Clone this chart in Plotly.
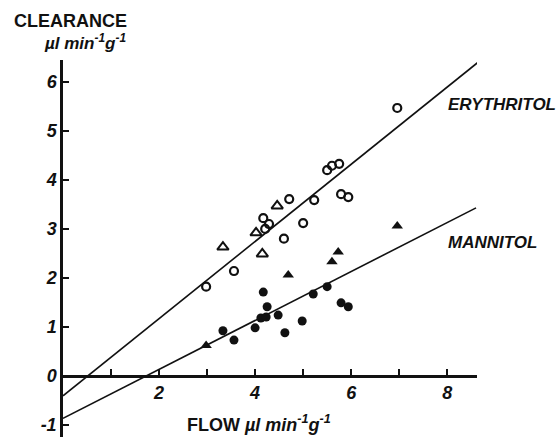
import plotly.graph_objects as go

# ---- data ----
ery_open_circle_x = [2.98, 3.56, 4.17, 4.21, 4.29, 4.60, 4.71, 5.00, 5.23, 5.50, 5.60, 5.75, 5.79, 5.94, 6.96]
ery_open_circle_y = [1.82, 2.14, 3.22, 3.00, 3.10, 2.80, 3.61, 3.12, 3.59, 4.20, 4.29, 4.33, 3.71, 3.65, 5.47]

ery_open_tri_x = [3.33, 4.02, 4.15, 4.46]
ery_open_tri_y = [2.63, 2.92, 2.49, 3.47]

man_filled_circle_x = [3.33, 3.56, 4.00, 4.12, 4.17, 4.23, 4.25, 4.48, 4.62, 4.98, 5.21, 5.50, 5.79, 5.94]
man_filled_circle_y = [0.92, 0.73, 0.98, 1.18, 1.71, 1.20, 1.41, 1.24, 0.88, 1.12, 1.67, 1.82, 1.49, 1.41]

man_filled_tri_x = [2.98, 4.69, 5.60, 5.73, 6.96]
man_filled_tri_y = [0.62, 2.06, 2.33, 2.53, 3.06]

ery_line_x = [0.0, 8.65]
ery_line_y = [-0.41, 6.41]
man_line_x = [0.0, 8.60]
man_line_y = [-0.87, 3.43]

x_tick_vals = [2, 4, 6, 8]
x_tick_text = ["2", "4", "6", "8"]
x_minor_tick_vals = [1, 3, 5, 7]
y_tick_vals = [-1, 0, 1, 2, 3, 4, 5, 6]
y_tick_text = ["-1", "0", "1", "2", "3", "4", "5", "6"]

x_range = [0, 8.62]
y_range = [-1.25, 6.45]

# ---- layout geometry ----
W, H = 560, 437
ML, MR, MT, MB = 63, 83, 60, 0
PW, PH = W - ML - MR, H - MT - MB

def px(xp):
    return (xp - ML) / PW

def py(yp):
    return (H - MB - yp) / PH

FONT = "Liberation Sans"
BLACK = "#111111"

fig = go.Figure()

fig.add_trace(go.Scatter(x=ery_line_x, y=ery_line_y, mode="lines",
                         line=dict(color=BLACK, width=1.6), hoverinfo="skip"))
fig.add_trace(go.Scatter(x=man_line_x, y=man_line_y, mode="lines",
                         line=dict(color=BLACK, width=1.6), hoverinfo="skip"))

fig.add_trace(go.Scatter(x=ery_open_circle_x, y=ery_open_circle_y, mode="markers",
                         marker=dict(symbol="circle-open", size=8, color=BLACK,
                                     line=dict(width=2.2, color=BLACK))))
fig.add_trace(go.Scatter(x=ery_open_tri_x, y=ery_open_tri_y, mode="markers",
                         marker=dict(symbol="triangle-up-open", size=10, color=BLACK,
                                     line=dict(width=2, color=BLACK))))
fig.add_trace(go.Scatter(x=man_filled_circle_x, y=man_filled_circle_y, mode="markers",
                         marker=dict(symbol="circle", size=9, color=BLACK,
                                     line=dict(width=0))))
fig.add_trace(go.Scatter(x=man_filled_tri_x, y=man_filled_tri_y, mode="markers",
                         marker=dict(symbol="triangle-up", size=10, color=BLACK,
                                     line=dict(width=0))))

tickfont = dict(family=FONT, size=18, color=BLACK)

x_axis_pos = (0 - y_range[0]) / (y_range[1] - y_range[0])

def bi(s):
    return "<b><i>" + s + "</i></b>"

fig.update_layout(
    width=W, height=H,
    margin=dict(l=ML, r=MR, t=MT, b=MB, pad=0),
    paper_bgcolor="white", plot_bgcolor="white",
    showlegend=False,
    xaxis=dict(range=x_range, showgrid=False, zeroline=False,
               showline=True, linecolor=BLACK, linewidth=2.5,
               anchor="free", position=x_axis_pos,
               ticks="inside", ticklen=6, tickwidth=2, tickcolor=BLACK,
               tickmode="array", tickvals=x_tick_vals,
               ticktext=[bi(t) for t in x_tick_text], tickfont=tickfont,
               minor=dict(tickmode="array", tickvals=x_minor_tick_vals, ticks="inside",
                          ticklen=6, tickwidth=2, tickcolor=BLACK, showgrid=False)),
    yaxis=dict(range=y_range, showgrid=False, zeroline=False,
               showline=True, linecolor=BLACK, linewidth=2.5,
               ticks="inside", ticklen=6, tickwidth=2, tickcolor=BLACK,
               tickmode="array", tickvals=y_tick_vals,
               ticktext=[bi(t) for t in y_tick_text], tickfont=tickfont),
)

annotations = [
    dict(text="<b>CLEARANCE</b>", x=px(12), y=py(21), xanchor="left", yanchor="middle", size=18),
    dict(text="<b><i>µl min<sup>-1</sup>g<sup>-1</sup></i></b>", x=px(128), y=py(42), xanchor="right", yanchor="middle", size=17),
    dict(text="<b>FLOW <i>µl min<sup>-1</sup>g<sup>-1</sup></i></b>", x=px(185), y=py(423), xanchor="left", yanchor="middle", size=18),
    dict(text="<b><i>ERYTHRITOL</i></b>", x=px(446), y=py(104), xanchor="left", yanchor="middle", size=17),
    dict(text="<b><i>MANNITOL</i></b>", x=px(446), y=py(242), xanchor="left", yanchor="middle", size=17),
]
for a in annotations:
    sz = a.pop("size")
    fig.add_annotation(xref="paper", yref="paper", showarrow=False,
                       font=dict(family=FONT, size=sz, color=BLACK), **a)

fig.write_html("out.html")
